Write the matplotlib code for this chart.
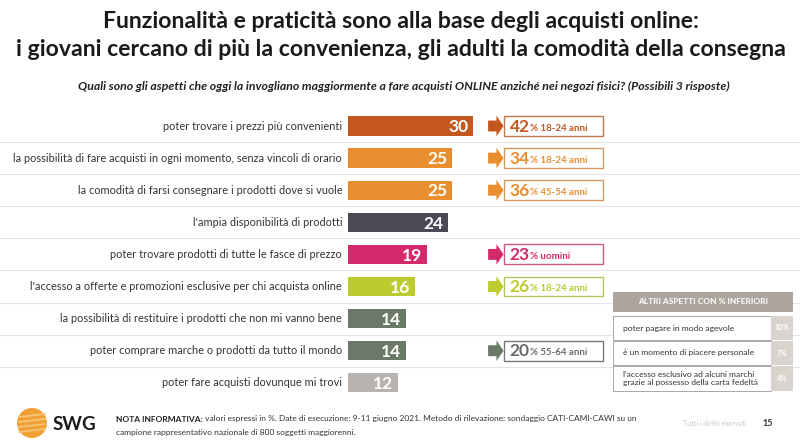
import matplotlib.pyplot as plt
import matplotlib.patches as mpatches
from matplotlib.colors import to_rgb

# dati
labels = [
    "poter trovare i prezzi più convenienti",
    "la possibilità di fare acquisti in ogni momento, senza vincoli di orario",
    "la comodità di farsi consegnare i prodotti dove si vuole",
    "l'ampia disponibilità di prodotti",
    "poter trovare prodotti di tutte le fasce di prezzo",
    "l'accesso a offerte e promozioni esclusive per chi acquista online",
    "la possibilità di restituire i prodotti che non mi vanno bene",
    "poter comprare marche o prodotti da tutto il mondo",
    "poter fare acquisti dovunque mi trovi",
]
values = [30, 25, 25, 24, 19, 16, 14, 14, 12]
colors = ['#c4571d', '#e88e2e', '#e88e2e', '#4d4856', '#d42a6b',
          '#bccb2d', '#6b7a68', '#6b7a68', '#b9b3af']

hl_rows = [0, 1, 2, 4, 5, 7]
hl_values = [42, 34, 36, 23, 26, 20]
hl_groups = ['18-24 anni', '18-24 anni', '45-54 anni', 'uomini', '18-24 anni', '55-64 anni']

altri_labels = ["poter pagare in modo agevole",
                "è un momento di piacere personale",
                "l'accesso esclusivo ad alcuni marchi\ngrazie al possesso della carta fedeltà"]
altri_values = [10, 7, 4]

plt.rcParams['font.family'] = ['Lato', 'DejaVu Sans']


def schiarisci(c, f=0.35):
    # mescola il colore con un grigio chiaro per il bordo dei riquadri
    r, g, b = to_rgb(c)
    return (r * (1 - f) + 0.7 * f, g * (1 - f) + 0.7 * f, b * (1 - f) + 0.7 * f)


fig = plt.figure(figsize=(8, 4.48), dpi=100)

# assi del grafico a barre: 0 a 348px, 4.17 px per punto, righe ogni 32.1 px
ax = fig.add_axes([0, 0, 1, 1])
ax.set_xlim(-348 / 4.17, (800 - 348) / 4.17)
ax.set_ylim((448 - 126) / 32.1, -126 / 32.1)
ax.axis('off')

rows = list(range(len(values)))
ax.barh(rows, values, height=0.6, color=colors, zorder=2)

for i in rows:
    ax.text(-1.4, i, labels[i], ha='right', va='center', fontsize=7.9, color='#333333')
    ax.text(values[i] - 1.2, i + 0.04, str(values[i]), ha='right', va='center',
            fontsize=12.5, fontweight='bold', color='white', zorder=3)
    if i < len(values) - 1:
        ax.plot([-84, 109], [i + 0.5, i + 0.5], color='#e4e4e4', lw=0.8, zorder=1)

for r, v, g in zip(hl_rows, hl_values, hl_groups):
    c = colors[r]
    edge = '#777777' if r == 7 else schiarisci(c)
    txtc = '#6b6b6b' if r == 7 else c
    ax.arrow(33.6, r, 3.7, 0, width=0.34, head_width=0.64, head_length=1.7,
             length_includes_head=True, color=c, lw=0)
    ax.add_patch(mpatches.Rectangle((37.5, r - 0.31), 23.7, 0.62, facecolor='white',
                                    edgecolor=edge, lw=1.0, zorder=2))
    t = ax.text(38.8, r + 0.02, str(v), ha='left', va='center', fontsize=12.5,
                fontweight='bold', color=txtc, zorder=3)
    ax.annotate('% ' + g, xy=(1, 0.12), xycoords=t, ha='left', va='bottom',
                fontsize=7, fontweight='bold', color=txtc, zorder=3)

# overlay in pixel
ov = fig.add_axes([0, 0, 1, 1])
ov.set_xlim(0, 800)
ov.set_ylim(448, 0)
ov.axis('off')
ov.patch.set_alpha(0)

# titolo
ov.text(401, 22, "Funzionalità e praticità sono alla base degli acquisti online:",
        ha='center', va='center', fontsize=16.6, fontweight='bold', color='#1a1a1a')
ov.text(401, 50, "i giovani cercano di più la convenienza, gli adulti la comodità della consegna",
        ha='center', va='center', fontsize=16.6, fontweight='bold', color='#1a1a1a')
ov.text(404, 86, "Quali sono gli aspetti che oggi la invogliano maggiormente a fare acquisti ONLINE "
        "anziché nei negozi fisici? (Possibili 3 risposte)",
        ha='center', va='center', fontsize=8.8, fontweight='bold', style='italic', color='#222222')

# tabella altri aspetti
ov.add_patch(mpatches.Rectangle((613, 292), 180, 20, facecolor='#aca69f', lw=0))
ov.text(703, 302, "ALTRI ASPETTI CON % INFERIORI", ha='center', va='center',
        fontsize=6, fontweight='bold', color='white')
row_y = [316, 341, 366]
row_h = [24, 24, 25]
for y, h, lab, v in zip(row_y, row_h, altri_labels, altri_values):
    ov.add_patch(mpatches.Rectangle((613, y), 158, h, facecolor='white',
                                    edgecolor='#9a9a9a', lw=0.6))
    ov.add_patch(mpatches.Rectangle((771, y), 22, h, facecolor='#d9d3cd', lw=0))
    ov.text(623, y + h / 2, lab, ha='left', va='center', fontsize=6.1,
            color='#333333', linespacing=1.15)
    ov.text(782, y + h / 2, f"{v}%", ha='center', va='center', fontsize=5.5,
            fontweight='bold', color='white')

# logo e note
ov.add_patch(mpatches.Circle((32, 423), 15, facecolor='#f0a035', lw=0))
for dy in (-6, -1, 4, 9):
    ov.plot([19, 45], [423 + dy, 423 + dy - 3], color='#f7c77a', lw=1.2)
ov.text(53, 425, "SWG", ha='left', va='center', fontsize=13.5, fontweight='bold', color='#1a1a1a')
n = ov.text(116, 419, "NOTA INFORMATIVA:", ha='left', va='center', fontsize=6,
            fontweight='bold', color='#222222')
ov.annotate(" valori espressi in %. Date di esecuzione: 9-11 giugno 2021. Metodo di rilevazione: "
            "sondaggio CATI-CAMI-CAWI su un", xy=(1, 0.5), xycoords=n, ha='left', va='center',
            fontsize=6, color='#333333')
ov.text(116, 433, "campione rappresentativo nazionale di 800 soggetti maggiorenni.",
        ha='left', va='center', fontsize=6, color='#333333')
ov.text(715, 424, "Tutti i diritti riservati", ha='center', va='center', fontsize=5,
        color='#c8c8c8')
ov.text(768, 424, "15", ha='center', va='center', fontsize=6.5, fontweight='bold', color='#333333')

fig.savefig('out.png', dpi=100)
